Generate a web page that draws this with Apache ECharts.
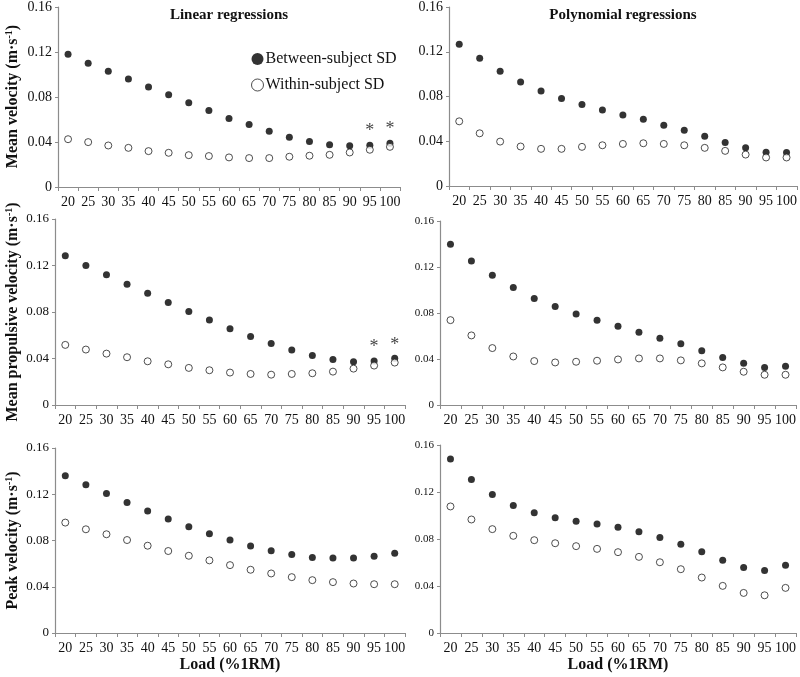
<!DOCTYPE html>
<html><head><meta charset="utf-8">
<script src="https://cdn.jsdelivr.net/npm/echarts@6/dist/echarts.min.js"></script>
<style>html,body{margin:0;padding:0;background:#fff}#c{width:800px;height:677px}</style>
</head><body><div id="c"></div>
<script>
const loads = ['20','25','30','35','40','45','50','55','60','65','70','75','80','85','90','95','100'];
const yMin = 0, yMax = 0.16, yStep = 0.04;
const seriesNames = ['Between-subject SD', 'Within-subject SD'];
const panelTitles = ['Linear regressions', 'Polynomial regressions'];
const rowNames = ['Mean velocity', 'Mean propulsive velocity', 'Peak velocity'];
const xName = 'Load (%1RM)';
const sigLoads = ['95', '100'];

const mvLinBetween  = [0.118,0.110,0.103,0.096,0.089,0.082,0.075,0.068,0.061,0.0555,0.0496,0.0443,0.0404,0.0375,0.0366,0.0372,0.0390];
const mvLinWithin   = [0.0425,0.0399,0.0369,0.0348,0.0319,0.0304,0.0283,0.0275,0.0263,0.0257,0.0257,0.0269,0.0278,0.0286,0.0307,0.0331,0.0357];
const mvPolyBetween = [0.1268,0.1141,0.1025,0.0930,0.0850,0.0782,0.0729,0.0679,0.0634,0.0596,0.0542,0.0498,0.0444,0.0388,0.0341,0.0302,0.0299];
const mvPolyWithin  = [0.0578,0.0471,0.0397,0.0353,0.0332,0.0332,0.0350,0.0364,0.0376,0.0382,0.0376,0.0364,0.0341,0.0314,0.0281,0.0255,0.0255];
const mpvLinBetween  = [0.1284,0.1200,0.1120,0.1039,0.0962,0.0882,0.0804,0.0732,0.0655,0.0589,0.0528,0.0474,0.0425,0.0391,0.0373,0.0379,0.0402];
const mpvLinWithin   = [0.0517,0.0477,0.0442,0.0411,0.0376,0.0350,0.0319,0.0299,0.0279,0.0267,0.0261,0.0267,0.0273,0.0287,0.0313,0.0339,0.0365];
const mpvPolyBetween = [0.1397,0.1252,0.1128,0.1021,0.0926,0.0856,0.0792,0.0738,0.0685,0.0633,0.0581,0.0532,0.0471,0.0414,0.0362,0.0327,0.0336];
const mpvPolyWithin  = [0.0738,0.0605,0.0495,0.0422,0.0382,0.0370,0.0376,0.0385,0.0396,0.0405,0.0405,0.0388,0.0362,0.0327,0.0289,0.0263,0.0263];
const pvLinBetween  = [0.1360,0.1282,0.1206,0.1128,0.1056,0.0987,0.0920,0.0859,0.0804,0.0752,0.0712,0.0680,0.0654,0.0648,0.0648,0.0663,0.0689];
const pvLinWithin   = [0.0955,0.0897,0.0854,0.0804,0.0755,0.0709,0.0668,0.0628,0.0587,0.0547,0.0515,0.0483,0.0457,0.0440,0.0428,0.0422,0.0422];
const pvPolyBetween = [0.1481,0.1307,0.1179,0.1086,0.1023,0.0980,0.0952,0.0927,0.0901,0.0861,0.0813,0.0756,0.0691,0.0620,0.0557,0.0531,0.0577];
const pvPolyWithin  = [0.1077,0.0966,0.0884,0.0827,0.0790,0.0764,0.0739,0.0716,0.0688,0.0648,0.0602,0.0543,0.0472,0.0401,0.0341,0.0321,0.0384];

const FONT = '"Liberation Serif", "Times New Roman", serif';
const AXC = '#8c8c8c';

const panels = [
  {g:{left:58, top:6, width:342, height:181}, yf:14, xf:14, b:mvLinBetween, w:mvLinWithin, sig:true, row:0, col:0},
  {g:{left:449, top:5, width:349, height:181}, yf:14, xf:14, b:mvPolyBetween, w:mvPolyWithin, sig:false, row:0, col:1},
  {g:{left:55, top:219, width:350, height:186}, yf:13, xf:14, b:mpvLinBetween, w:mpvLinWithin, sig:true, row:1, col:0},
  {g:{left:440, top:221, width:356, height:184}, yf:11, xf:14, b:mpvPolyBetween, w:mpvPolyWithin, sig:false, row:1, col:1},
  {g:{left:55, top:448, width:350, height:185}, yf:13, xf:14, b:pvLinBetween, w:pvLinWithin, sig:false, row:2, col:0},
  {g:{left:440, top:445, width:356, height:188}, yf:11, xf:14, b:pvPolyBetween, w:pvPolyWithin, sig:false, row:2, col:1}
];

const grid = [], xAxis = [], yAxis = [], series = [], graphic = [];
const richName = {
  a:{fontFamily:FONT, fontSize:16, fontWeight:'bold', fill:'#111', lineHeight:18},
  s:{fontFamily:FONT, fontSize:10, fontWeight:'bold', fill:'#111', verticalAlign:'top', lineHeight:18}
};
panels.forEach((p, i) => {
  grid.push(Object.assign({containLabel:false}, p.g));
  xAxis.push({
    type:'category', gridIndex:i, data:loads, boundaryGap:true,
    axisLine:{lineStyle:{color:AXC, width:1.2}},
    axisTick:{show:true, length:4, lineStyle:{color:AXC}},
    axisLabel:{color:'#111', fontFamily:FONT, fontSize:p.xf, margin:8, interval:0},
    name: p.row === 2 ? xName : '', nameLocation:'middle', nameGap:24,
    nameTextStyle:{fontFamily:FONT, fontSize:16, fontWeight:'bold', color:'#111'}
  });
  yAxis.push({
    type:'value', gridIndex:i, min:yMin, max:yMax, interval:yStep,
    splitLine:{show:false},
    axisLine:{show:true, lineStyle:{color:AXC, width:1.2}},
    axisTick:{show:true, length:3, lineStyle:{color:AXC}},
    axisLabel:{color:'#111', fontFamily:FONT, fontSize:p.yf, margin:6}
  });
  if (p.col === 0) {
    graphic.push({
      type:'text', x:13, y:p.g.top + p.g.height / 2, rotation:Math.PI / 2,
      style:{
        text:'{a|' + rowNames[p.row] + ' (m·s}{s|-1}{a|)}',
        rich:richName, align:'center', verticalAlign:'middle'
      }
    });
  }
  series.push({
    name:seriesNames[0], type:'scatter', xAxisIndex:i, yAxisIndex:i,
    symbol:'circle', symbolSize:7, itemStyle:{color:'#000'},
    data: p.b.map((v, k) => (p.sig && sigLoads.indexOf(loads[k]) >= 0)
      ? {value:v, label:{show:true, position:'top', distance:1, formatter:'*', fontFamily:FONT, fontSize:18, color:'#111'}}
      : v)
  });
  series.push({
    name:seriesNames[1], type:'scatter', xAxisIndex:i, yAxisIndex:i,
    symbol:'circle', symbolSize:7, itemStyle:{color:'#fff', borderColor:'#222', borderWidth:1},
    data: p.w
  });
});

const chart = echarts.init(document.getElementById('c'), null, {renderer:'canvas'});
chart.setOption({
  animation:false,
  backgroundColor:'#fff',
  title:[
    {text:panelTitles[0], left:224, top:3, textAlign:'center', textStyle:{fontFamily:FONT, fontSize:15, fontWeight:'bold', color:'#111'}},
    {text:panelTitles[1], left:618, top:3, textAlign:'center', textStyle:{fontFamily:FONT, fontSize:15, fontWeight:'bold', color:'#111'}}
  ],
  legend:{
    left:246, top:46, orient:'vertical', itemGap:10, itemWidth:12, itemHeight:12,
    textStyle:{fontFamily:FONT, fontSize:16, color:'#111', padding:[0,0,0,-3]},
    data:[
      {name:seriesNames[0], icon:'circle', itemStyle:{color:'#000'}},
      {name:seriesNames[1], icon:'circle', itemStyle:{color:'#fff', borderColor:'#222', borderWidth:1}}
    ],
    selectedMode:false
  },
  graphic, grid, xAxis, yAxis, series
});
</script></body></html>
